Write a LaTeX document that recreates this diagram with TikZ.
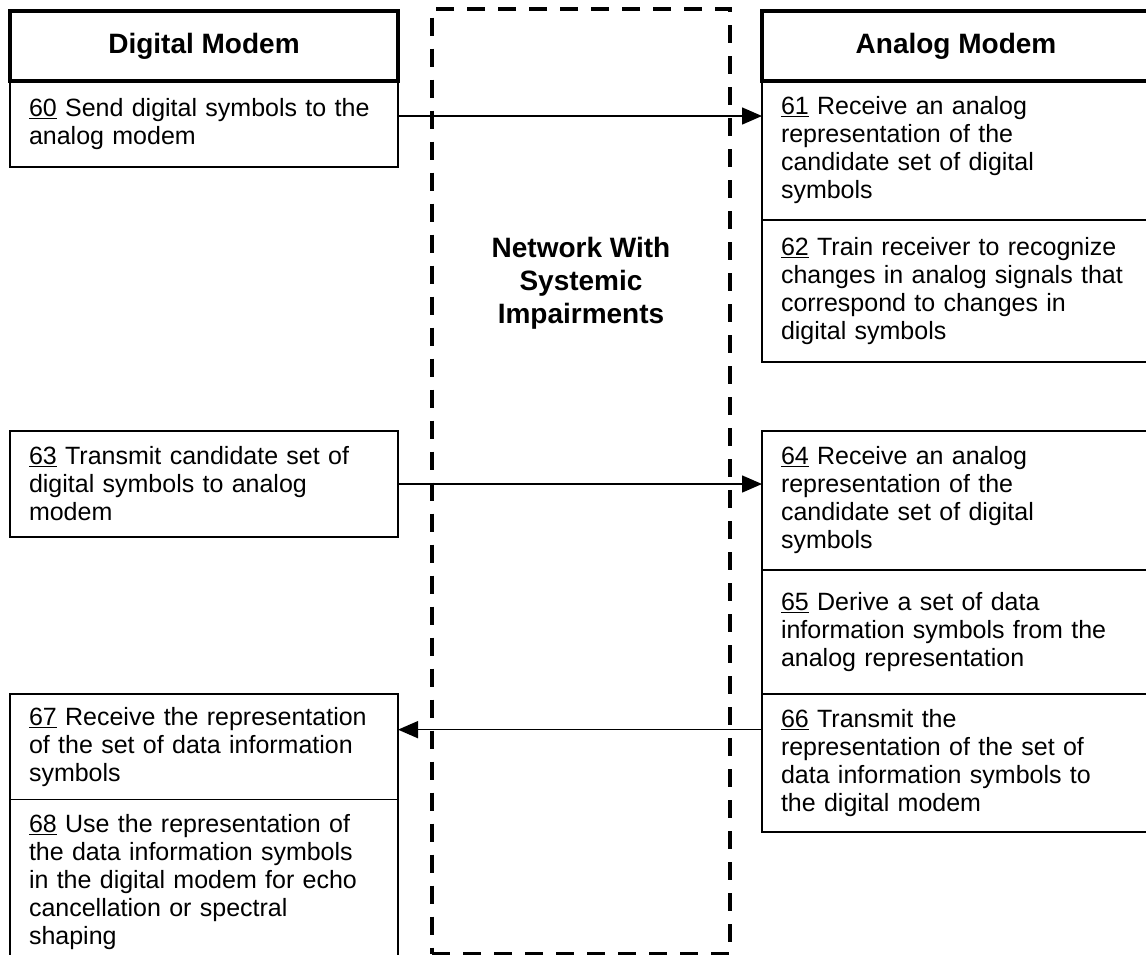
\documentclass[tikz,border=0pt]{standalone}
\usepackage{fontspec}
\setmainfont{Liberation Sans}
\usetikzlibrary{positioning,arrows.meta}

\begin{document}
\begin{tikzpicture}[x=1pt,y=-1pt,
   modem/.style={draw,line width=4pt,outer sep=0pt,anchor=north west,minimum width=388pt,minimum height=70pt,font=\fontsize{28}{33}\selectfont\bfseries},
   stepbox/.style={draw,line width=1.5pt,outer sep=0pt,anchor=north west,text width=350pt,inner xsep=19pt,inner ysep=13pt,align=left,font=\fontsize{25}{28}\selectfont},
   netbox/.style={draw,line width=4pt,dash pattern=on 18pt off 13pt,minimum width=298pt,minimum height=945pt},
   nettitle/.style={align=center,font=\fontsize{28}{33}\selectfont\bfseries},
   flow/.style={line width=1.5pt,-{Triangle[length=20pt,width=17pt]}}]
\useasboundingbox (0,0) rectangle (1146,954);

\node[netbox] (net) at (581,481) {};
\node[nettitle] (nettxt) at (581,283) {Network With\\Systemic\\Impairments};

% digital side
\node[modem] (hdrL) at (10,11) {Digital Modem};
\node[stepbox,below=0pt of hdrL,minimum height=86pt] (s60) {\underline{60} Send digital symbols to the\\analog modem};
\node[stepbox,minimum height=106pt] (s63) at (10,431) {\underline{63} Transmit candidate set of\\digital symbols to analog\\modem};
\node[stepbox,minimum height=103pt] (s67) at (10,694) {\underline{67} Receive the representation\\of the set of data information\\symbols};
\node[stepbox,below=0pt of s67,minimum height=165pt] (s68) {\underline{68} Use the representation of\\the data information symbols\\in the digital modem for echo\\cancellation or spectral\\shaping};

% analog side
\node[modem] (hdrR) at (762,11) {Analog Modem};
\node[stepbox,below=0pt of hdrR,minimum height=139pt] (s61) {\underline{61} Receive an analog\\representation of the\\candidate set of digital\\symbols};
\node[stepbox,below=0pt of s61,minimum height=142pt] (s62) {\underline{62} Train receiver to recognize\\changes in analog signals that\\correspond to changes in\\digital symbols};
\node[stepbox,minimum height=139pt] (s64) at (762,431) {\underline{64} Receive an analog\\representation of the\\candidate set of digital\\symbols};
\node[stepbox,below=0pt of s64,minimum height=124pt] (s65) {\underline{65} Derive a set of data\\information symbols from the\\analog representation};
\node[stepbox,below=0pt of s65,minimum height=138pt] (s66) {\underline{66} Transmit the\\representation of the set of\\data information symbols to\\the digital modem};

\coordinate (a1) at ([yshift=8pt]s60.east);
\draw[flow] (a1) -- (a1 -| s61.west);
\draw[flow] (s63.east) -- (s63.east -| s64.west);
\coordinate (a3) at ([yshift=17pt]s67.east);
\draw[flow] (a3 -| s66.west) -- (a3);
\end{tikzpicture}
\end{document}
